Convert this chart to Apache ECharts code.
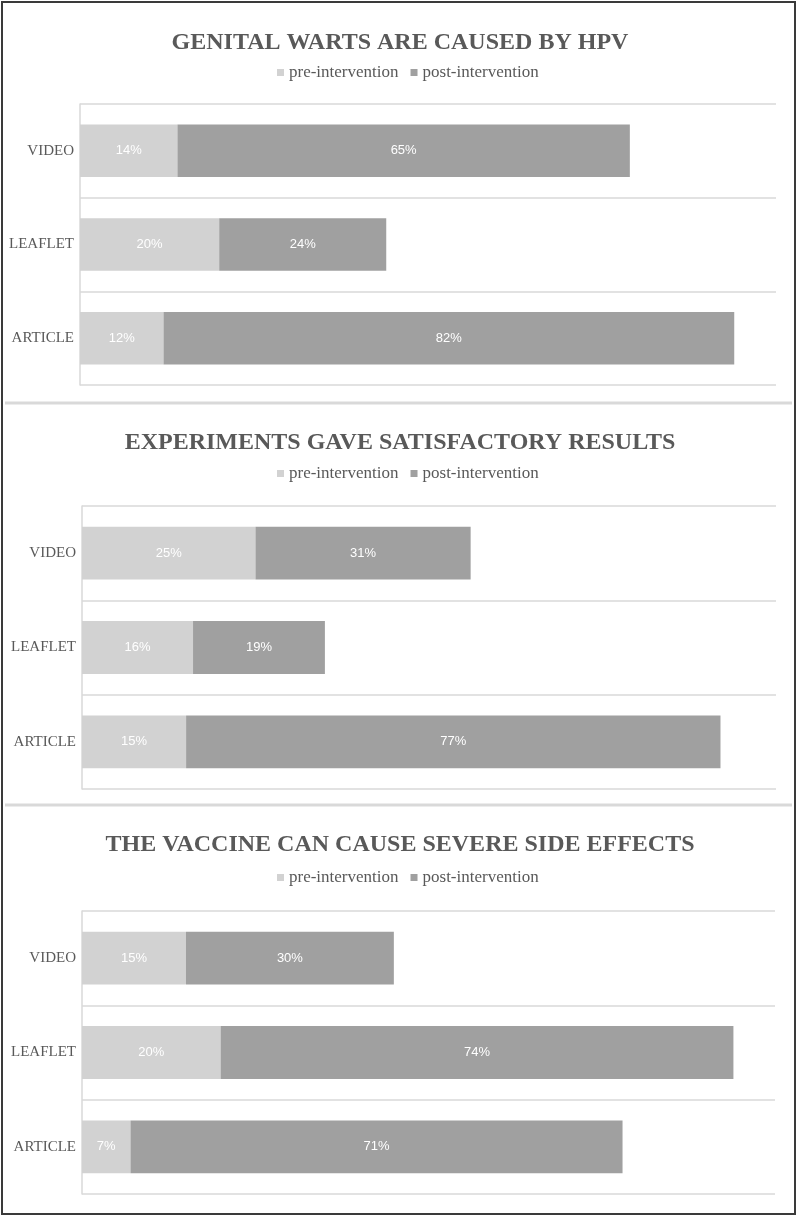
<!DOCTYPE html>
<html>
<head>
<meta charset="utf-8">
<script src="https://cdn.jsdelivr.net/npm/echarts/dist/echarts.min.js"></script>
<style>
html, body { margin: 0; padding: 0; background: #fff; }
#chart { width: 800px; height: 1221px; }
</style>
</head>
<body>
<div id="chart"></div>
<script>
// data
var categories = ['VIDEO', 'LEAFLET', 'ARTICLE'];
var seriesNames = ['pre-intervention', 'post-intervention'];

var titles = [
    'GENITAL WARTS ARE CAUSED BY HPV',
    'EXPERIMENTS GAVE SATISFACTORY RESULTS',
    'THE VACCINE CAN CAUSE SEVERE SIDE EFFECTS'
];

var pre1 = [14, 20, 12];
var post1 = [65, 24, 82];
var pre2 = [25, 16, 15];
var post2 = [31, 19, 77];
var pre3 = [15, 20, 7];
var post3 = [30, 74, 71];

var preValues = [pre1, pre2, pre3];
var postValues = [post1, post2, post3];

// layout of the three panels
var panels = [
    { titleTop: 31, legendTop: 64, grid: { left: 80, right: 24, top: 104, height: 281 } },
    { titleTop: 431, legendTop: 465, grid: { left: 82, right: 24, top: 506, height: 283 } },
    { titleTop: 833, legendTop: 869, grid: { left: 82, right: 25, top: 911, height: 283 } }
];

var colors = ['#d2d2d2', '#a0a0a0'];
var textColor = '#595959';
var lineColor = '#d9d9d9';

var option = {
    animation: false,
    color: colors,
    title: [],
    legend: [],
    grid: [],
    xAxis: [],
    yAxis: [],
    series: [],
    graphic: [
        {
            type: 'rect',
            shape: { x: 2, y: 2, width: 793, height: 1212 },
            style: { fill: 'none', stroke: '#3a3a3a', lineWidth: 2 }
        },
        {
            type: 'line',
            shape: { x1: 5, y1: 403, x2: 792, y2: 403 },
            style: { stroke: lineColor, lineWidth: 3 }
        },
        {
            type: 'line',
            shape: { x1: 5, y1: 805, x2: 792, y2: 805 },
            style: { stroke: lineColor, lineWidth: 3 }
        }
    ]
};

panels.forEach(function (p, i) {
    option.title.push({
        text: titles[i],
        left: 'center',
        top: p.titleTop,
        padding: 0,
        textStyle: {
            fontFamily: 'Liberation Serif',
            fontSize: 24,
            fontWeight: 'bold',
            color: textColor
        }
    });
    option.legend.push({
        data: seriesNames,
        left: 277,
        top: p.legendTop,
        padding: 0,
        itemWidth: 7,
        itemHeight: 7,
        itemGap: 12,
        icon: 'rect',
        selectedMode: false,
        textStyle: {
            fontFamily: 'Liberation Serif',
            fontSize: 17,
            color: textColor
        }
    });
    option.grid.push(p.grid);
    option.xAxis.push({
        type: 'value',
        gridIndex: i,
        min: 0,
        max: 100,
        axisLabel: { show: false },
        axisLine: { show: false },
        axisTick: { show: false },
        splitLine: { show: false }
    });
    option.yAxis.push({
        type: 'category',
        gridIndex: i,
        inverse: true,
        data: categories,
        axisTick: { show: false },
        axisLine: { show: true, lineStyle: { color: lineColor, width: 1.5 } },
        splitLine: { show: true, lineStyle: { color: lineColor, width: 1.5 } },
        axisLabel: {
            fontFamily: 'Liberation Serif',
            fontSize: 15,
            color: textColor,
            margin: 6
        }
    });
    [preValues[i], postValues[i]].forEach(function (vals, k) {
        option.series.push({
            name: seriesNames[k],
            type: 'bar',
            stack: 'panel' + i,
            xAxisIndex: i,
            yAxisIndex: i,
            barWidth: '56%',
            data: vals,
            label: {
                show: true,
                position: 'inside',
                formatter: '{c}%',
                color: '#fff',
                fontFamily: 'Liberation Sans',
                fontSize: 13
            }
        });
    });
});

var chart = echarts.init(document.getElementById('chart'));
chart.setOption(option);
</script>
</body>
</html>
